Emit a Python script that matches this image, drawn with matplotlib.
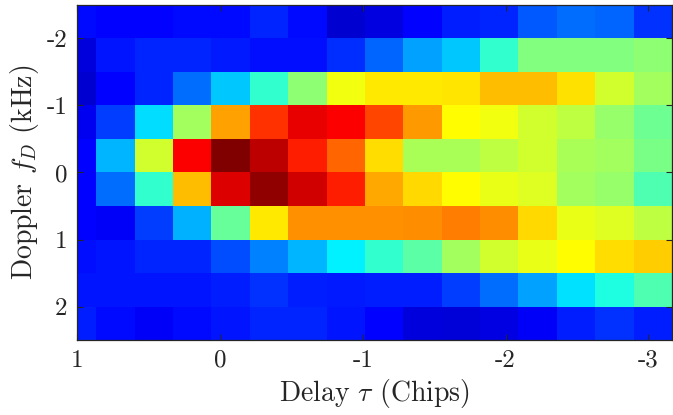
import numpy as np
import matplotlib
matplotlib.use("Agg")
import matplotlib.pyplot as plt
from matplotlib.colors import LinearSegmentedColormap

# Delay axis (chips), cell centres, and Doppler axis (kHz), cell centres
delay_start = 1.0
delay_step = -0.2687
n_delay = 16
delay = delay_start + delay_step * np.arange(n_delay)
doppler = [-2.25, -1.75, -1.25, -0.75, -0.25, 0.25, 0.75, 1.25, 1.75, 2.25]

# Normalised correlation power (rows: Doppler from -2.25 to 2.25 kHz)
r0 = [0.135, 0.125, 0.125, 0.135, 0.135, 0.164, 0.135, 0.081, 0.095, 0.125, 0.154, 0.164, 0.213, 0.233, 0.223, 0.174]
r1 = [0.090, 0.145, 0.164, 0.164, 0.150, 0.140, 0.140, 0.169, 0.223, 0.282, 0.321, 0.424, 0.500, 0.500, 0.503, 0.512]
r2 = [0.081, 0.125, 0.164, 0.233, 0.321, 0.424, 0.512, 0.610, 0.645, 0.645, 0.650, 0.689, 0.689, 0.654, 0.581, 0.532]
r3 = [0.110, 0.184, 0.341, 0.532, 0.718, 0.826, 0.895, 0.875, 0.806, 0.723, 0.625, 0.610, 0.581, 0.561, 0.522, 0.483]
r4 = [0.125, 0.301, 0.581, 0.875, 1.000, 0.939, 0.845, 0.777, 0.659, 0.542, 0.542, 0.561, 0.581, 0.542, 0.532, 0.493]
r5 = [0.125, 0.233, 0.424, 0.689, 0.909, 0.983, 0.919, 0.845, 0.708, 0.664, 0.625, 0.605, 0.591, 0.532, 0.522, 0.453]
r6 = [0.125, 0.120, 0.184, 0.297, 0.473, 0.645, 0.733, 0.733, 0.733, 0.738, 0.752, 0.738, 0.664, 0.605, 0.591, 0.561]
r7 = [0.140, 0.145, 0.164, 0.164, 0.203, 0.252, 0.301, 0.360, 0.424, 0.463, 0.532, 0.581, 0.605, 0.625, 0.659, 0.674]
r8 = [0.145, 0.145, 0.145, 0.145, 0.154, 0.174, 0.154, 0.150, 0.154, 0.154, 0.184, 0.233, 0.282, 0.346, 0.404, 0.453]
r9 = [0.154, 0.135, 0.120, 0.135, 0.145, 0.164, 0.164, 0.145, 0.125, 0.090, 0.086, 0.100, 0.120, 0.154, 0.174, 0.154]
power = np.array([r0, r1, r2, r3, r4, r5, r6, r7, r8, r9])

x_ticks = [1, 0, -1, -2, -3]
x_ticklabels = ["1", "0", "-1", "-2", "-3"]
y_ticks = [-2, -1, 0, 1, 2]
y_ticklabels = ["-2", "-1", "0", "1", "2"]

# MATLAB-style jet
jet_m = LinearSegmentedColormap.from_list(
    "jet_matlab",
    [(0.0, (0, 0, 0.5)), (0.125, (0, 0, 1)), (0.375, (0, 1, 1)),
     (0.625, (1, 1, 0)), (0.875, (1, 0, 0)), (1.0, (0.5, 0, 0))], N=256)

plt.rcParams["font.family"] = "serif"
plt.rcParams["font.serif"] = ["cmr10"]
plt.rcParams["mathtext.fontset"] = "cm"
plt.rcParams["axes.unicode_minus"] = False

fig = plt.figure(figsize=(6.73, 4.15), dpi=100)
ax = fig.add_axes([0.1144, 0.1807, 0.8841, 0.8073])
ax.pcolormesh(delay, doppler, power, cmap=jet_m, vmin=0, vmax=1, shading="nearest")

half = abs(delay_step) / 2
ax.set_xlim(delay_start, delay[-1] - half)
ax.set_ylim(2.5, -2.5)
ax.set_xticks(x_ticks)
ax.set_xticklabels(x_ticklabels)
ax.set_yticks(y_ticks)
ax.set_yticklabels(y_ticklabels)
ax.tick_params(direction="in", length=4, width=0.8, color="#262626",
               labelsize=18, top=True, right=True, pad=7, labelcolor="#262626")
for s in ax.spines.values():
    s.set_color("#262626")
    s.set_linewidth(0.9)
ax.set_xlabel(r"Delay $\tau$ (Chips)", fontsize=20, color="#262626", labelpad=4)
ax.set_ylabel(r"Doppler $f_D$ (kHz)", fontsize=20, color="#262626", labelpad=4)

fig.savefig("out.png", dpi=100)
